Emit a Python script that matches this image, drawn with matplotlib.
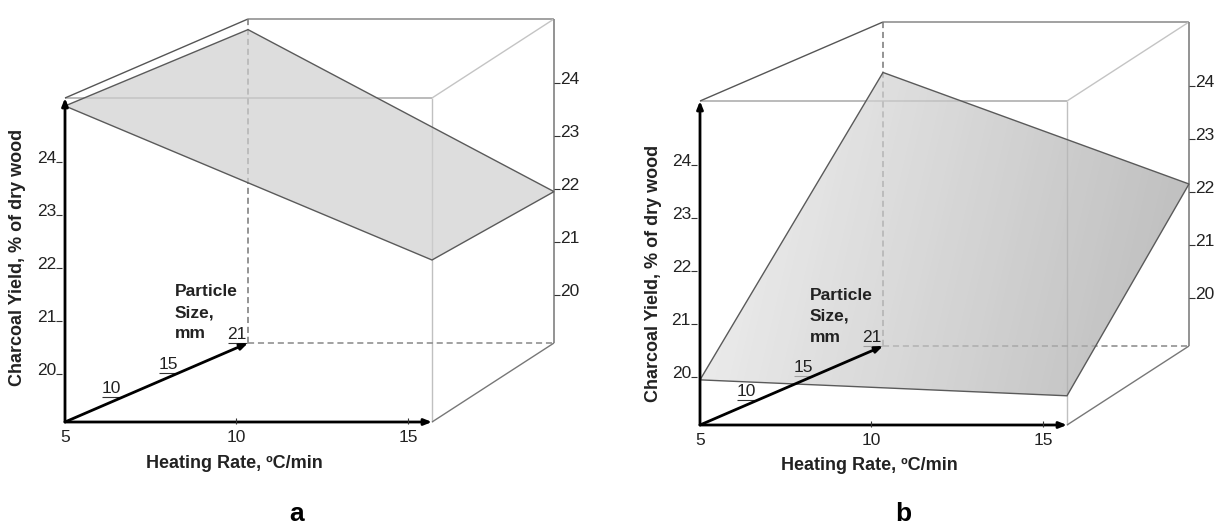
import numpy as np
import matplotlib
matplotlib.use("Agg")
import matplotlib.pyplot as plt
from matplotlib.patches import Polygon

plt.rcParams['font.family'] = ['Liberation Sans', 'DejaVu Sans']

# axis ranges of the drawn box
heating_range = (5, 15.7)      # Heating Rate, oC/min
particle_range = (5, 21)       # Particle Size, mm
yield_range = (19.1, 25.2)     # Charcoal Yield, %

heating_ticks = [5, 10, 15]
particle_ticks = [10, 15, 21]
yield_ticks = [20, 21, 22, 23, 24]

# surface corners: rows = particle size (5, 21), cols = heating rate (5, 15.7)
yield_a = [[25.05, 22.15],
           [25.00, 21.95]]
yield_b = [[19.95, 19.65],
           [24.25, 22.15]]

# oblique box layout in pixels
FRONT_W, BACK_X0, BACK_X1, DEPTH_DY, BOX_H = 367, 183, 489, 79, 324


def project(h, p, z, origin):
    u = (h - heating_range[0]) / (heating_range[1] - heating_range[0])
    t = (p - particle_range[0]) / (particle_range[1] - particle_range[0])
    v = (z - yield_range[0]) / (yield_range[1] - yield_range[0])
    left = BACK_X0 * t
    right = FRONT_W + (BACK_X1 - FRONT_W) * t
    x = origin[0] + left + (right - left) * u
    y = origin[1] - DEPTH_DY * t - BOX_H * v
    return x, y


def line(ax, a, b, **kw):
    ax.plot([a[0], b[0]], [a[1], b[1]], solid_capstyle='butt', **kw)


def arrow(ax, a, b):
    ax.annotate('', xy=b, xytext=a, zorder=5,
                arrowprops=dict(arrowstyle='-|>,head_length=0.45,head_width=0.18',
                                lw=2, color='black', shrinkA=0, shrinkB=0))


def draw_panel(ax, origin, surface, shade, ylabel_y, letter, letter_x):
    h0, h1 = heating_range
    p0, p1 = particle_range
    z0, z1 = yield_range
    P = lambda h, p, z: project(h, p, z, origin)

    O = P(h0, p0, z0)
    FBR, FTL, FTR = P(h1, p0, z0), P(h0, p0, z1), P(h1, p0, z1)
    BBL, BBR, BTL, BTR = P(h0, p1, z0), P(h1, p1, z0), P(h0, p1, z1), P(h1, p1, z1)

    # box edges
    line(ax, FTL, FTR, color='#a8a8a8', lw=1.1, zorder=1)
    line(ax, FTR, FBR, color='#c0c0c0', lw=1.0, zorder=1)
    line(ax, FTL, BTL, color='#555555', lw=1.0, zorder=1)
    line(ax, BTL, BTR, color='#9a9a9a', lw=1.3, zorder=1)
    line(ax, FTR, BTR, color='#c4c4c4', lw=1.0, zorder=1)
    line(ax, BTR, BBR, color='#8a8a8a', lw=1.3, zorder=1)
    line(ax, FBR, BBR, color='#777777', lw=1.0, zorder=1)
    line(ax, BTL, BBL, color='#777777', lw=1.1, ls=(0, (4, 2.5)), zorder=1)
    line(ax, BBL, BBR, color='#888888', lw=1.1, ls=(0, (4, 2.5)), zorder=1)

    # axes arrows
    arrow(ax, O, FBR)
    arrow(ax, O, FTL)
    arrow(ax, O, BBL)

    tick_font = dict(fontsize=12.5, color='#222222')
    # heating rate ticks
    for h in heating_ticks:
        x, y = P(h, p0, z0)
        if h != h0:
            line(ax, (x, y - 4), (x, y + 2), color='#333333', lw=0.8, zorder=5)
        ax.text(x, y + 8, str(h), ha='center', va='top', **tick_font)
    x, y = P((h0 + h1) / 2, p0, z0)
    ax.text(x - 14, y + 41, 'Heating Rate, \u00baC/min', ha='center', va='center',
            fontsize=13, fontweight='bold', color='#222222')

    # yield ticks, front left and back right
    for z in yield_ticks:
        x, y = P(h0, p0, z)
        line(ax, (x - 9, y), (x - 3, y), color='#333333', lw=0.8)
        ax.text(x - 9, y + 1, str(z), ha='right', va='baseline', **tick_font)
        x, y = P(h1, p1, z)
        line(ax, (x, y), (x + 6, y), color='#333333', lw=0.8)
        ax.text(x + 6, y + 1, str(z), ha='left', va='baseline', **tick_font)
    ax.text(O[0] - 47, ylabel_y, 'Charcoal Yield, % of dry wood', rotation=90,
            ha='center', va='center', fontsize=13, fontweight='bold', color='#222222')

    # particle size ticks
    for p in particle_ticks:
        x, y = P(h0, p, z0)
        line(ax, (x - 20, y), (x - 1, y), color='#333333', lw=0.8)
        ax.text(x - 11, y - 1, str(p), ha='center', va='bottom', **tick_font)
    for i, word in enumerate(['Particle', 'Size,', 'mm']):
        ax.text(O[0] + 110, O[1] - 130 + 21 * i, word, ha='left', va='center',
                fontsize=12.5, fontweight='bold', color='#222222')

    # response surface
    corners = [P(h0, p0, surface[0][0]), P(h1, p0, surface[0][1]),
               P(h1, p1, surface[1][1]), P(h0, p1, surface[1][0])]
    xs = [c[0] for c in corners]
    ys = [c[1] for c in corners]
    gx = np.linspace(0, 1, 120)
    gy = np.linspace(0, 1, 60)
    tilt = 0.04 if shade[0] != shade[1] else 0.0
    img = shade[0] + (shade[1] - shade[0]) * gx[None, :] - tilt * gy[:, None]
    clip = Polygon(corners, closed=True, transform=ax.transData)
    im = ax.imshow(img, cmap='gray', vmin=0, vmax=1, aspect='auto', alpha=0.7,
                   extent=(min(xs), max(xs), max(ys), min(ys)),
                   interpolation='bilinear', zorder=2)
    im.set_clip_path(clip)
    ax.add_patch(Polygon(corners, closed=True, facecolor='none',
                         edgecolor='#5a5a5a', lw=1.0, zorder=3))

    ax.text(letter_x, 521, letter, ha='center', va='baseline',
            fontsize=19, fontweight='bold', color='black')


fig = plt.figure(figsize=(12.24, 5.30), dpi=100)
ax = fig.add_axes([0, 0, 1, 1])

draw_panel(ax, (65, 422), yield_a, (0.81, 0.81), 257, 'a', 297)
draw_panel(ax, (700, 425), yield_b, (0.92, 0.66), 273, 'b', 903)

ax.set_xlim(0, 1224)
ax.set_ylim(530, 0)
ax.axis('off')

fig.savefig('out.png', dpi=100)
